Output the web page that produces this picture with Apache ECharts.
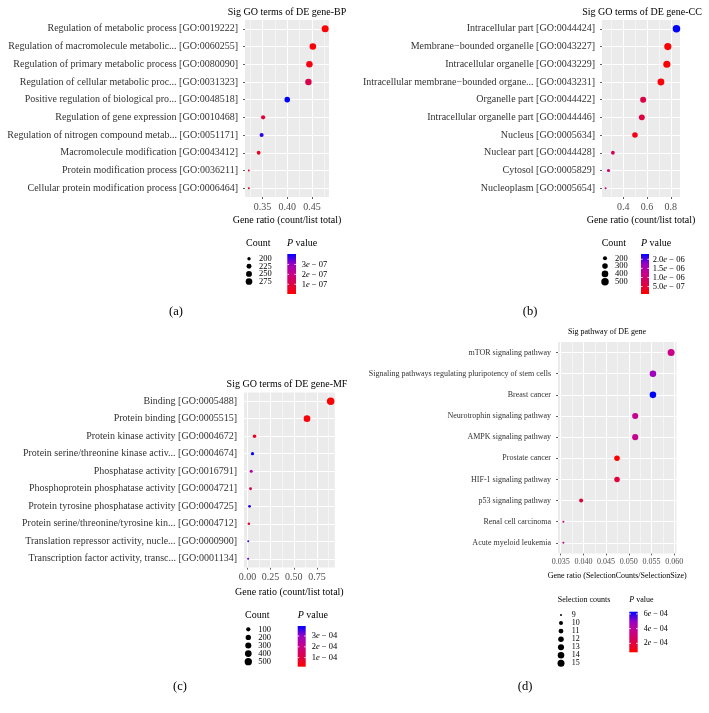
<!DOCTYPE html>
<html><head><meta charset="utf-8">
<script src="https://cdn.jsdelivr.net/npm/echarts@6/dist/echarts.min.js"></script>
<style>html,body{margin:0;padding:0;background:#fff}#c{width:709px;height:713px}</style>
</head><body><div id="c"></div>
<script>
// ---------- DATA ----------
// (a) BP
const bpTerms = ['Regulation of metabolic process [GO:0019222]','Regulation of macromolecule metabolic... [GO:0060255]','Regulation of primary metabolic process [GO:0080090]','Regulation of cellular metabolic proc... [GO:0031323]','Positive regulation of biological pro... [GO:0048518]','Regulation of gene expression [GO:0010468]','Regulation of nitrogen compound metab... [GO:0051171]','Macromolecule modification [GO:0043412]','Protein modification process [GO:0036211]','Cellular protein modification process [GO:0006464]'];
const bpRatio = [0.477,0.452,0.445,0.443,0.400,0.351,0.348,0.342,0.322,0.322];
const bpCount = [286,271,267,266,240,211,209,205,193,193];
const bpP = [2e-9,1.2e-8,2.5e-8,1.1e-7,4.05e-7,8e-8,3.8e-7,5e-8,7e-8,6e-8];
const bpXTicks = [0.35,0.40,0.45];
const bpXMinor = [0.325,0.375,0.425,0.475];
const bpSizeBreaks = [200,225,250,275];
const bpPBreaks = [1e-7,2e-7,3e-7];
const bpPLabels = ['1e − 07','2e − 07','3e − 07'];

// (b) CC
const ccTerms = ['Intracellular part [GO:0044424]','Membrane−bounded organelle [GO:0043227]','Intracellular organelle [GO:0043229]','Intracellular membrane−bounded organe... [GO:0043231]','Organelle part [GO:0044422]','Intracellular organelle part [GO:0044446]','Nucleus [GO:0005634]','Nuclear part [GO:0044428]','Cytosol [GO:0005829]','Nucleoplasm [GO:0005654]'];
const ccRatio = [0.848,0.775,0.767,0.717,0.567,0.556,0.498,0.312,0.275,0.250];
const ccCount = [509,465,460,430,340,334,299,187,165,150];
const ccP = [2.29e-6,9e-8,1.2e-7,1.5e-7,6.4e-7,5.7e-7,2.7e-7,8.6e-7,1.01e-6,1.19e-6];
const ccXTicks = [0.4,0.6,0.8];
const ccXMinor = [0.3,0.5,0.7];
const ccSizeBreaks = [200,300,400,500];
const ccPBreaks = [5e-7,1e-6,1.5e-6,2e-6];
const ccPLabels = ['5.0e − 07','1.0e − 06','1.5e − 06','2.0e − 06'];

// (c) MF
const mfTerms = ['Binding [GO:0005488]','Protein binding [GO:0005515]','Protein kinase activity [GO:0004672]','Protein serine/threonine kinase activ... [GO:0004674]','Phosphatase activity [GO:0016791]','Phosphoprotein phosphatase activity [GO:0004721]','Protein tyrosine phosphatase activity [GO:0004725]','Protein serine/threonine/tyrosine kin... [GO:0004712]','Translation repressor activity, nucle... [GO:0000900]','Transcription factor activity, transc... [GO:0001134]'];
const mfRatio = [0.897,0.642,0.077,0.055,0.041,0.034,0.023,0.016,0.009,0.008];
const mfCount = [538,385,46,33,25,20,14,10,5,5];
const mfP = [1.6e-5,2.7e-5,6.1e-5,3.93e-4,2.6e-4,1.29e-4,3.74e-4,8.4e-5,3.55e-4,3.48e-4];
const mfXTicks = [0,0.25,0.5,0.75];
const mfXMinor = [0.125,0.375,0.625,0.875];
const mfSizeBreaks = [100,200,300,400,500];
const mfPBreaks = [1e-4,2e-4,3e-4];
const mfPLabels = ['1e − 04','2e − 04','3e − 04'];

// (d) KEGG pathways
const kgTerms = ['mTOR signaling pathway','Signaling pathways regulating pluripotency of stem cells','Breast cancer','Neurotrophin signaling pathway','AMPK signaling pathway','Prostate cancer','HIF-1 signaling pathway','p53 signaling pathway','Renal cell carcinoma','Acute myeloid leukemia'];
const kgRatio = [0.0593,0.0553,0.0553,0.0514,0.0514,0.0474,0.0474,0.0395,0.0356,0.0356];
const kgCount = [15,14,14,13,13,12,12,10,9,9];
const kgP = [3.54e-4,4.75e-4,6.3e-4,3.65e-4,3.65e-4,7.8e-5,1.88e-4,1.88e-4,3.8e-4,3.8e-4];
const kgXTicks = [0.035,0.040,0.045,0.050,0.055,0.060];
const kgXMinor = [0.0375,0.0425,0.0475,0.0525,0.0575];
const kgSizeBreaks = [9,10,11,12,13,14,15];
const kgPBreaks = [2e-4,4e-4,6e-4];
const kgPLabels = ['2e − 04','4e − 04','6e − 04'];

// ---------- STYLE / LAYOUT ----------
const FONT = '"Liberation Serif","Times New Roman",Times,serif';
const GRAD = ['#FF0000','#DC0047','#CA0088','#9A00C2','#0000FF'];
const BIG = {axis:10, title:10, name:10, legT:10, legL:8.5};
const SMALL = {axis:8, xaxis:8, title:8, name:8, legT:8, legL:8};

const panels = [
 {terms:bpTerms, ratio:bpRatio, count:bpCount, p:bpP, xt:bpXTicks, xm:bpXMinor, dec:2, sb:bpSizeBreaks, pb:bpPBreaks, pl:bpPLabels,
  title:'Sig GO terms of DE gene-BP', xname:'Gene ratio (count/list total)', stitle:'Count', cap:'(a)', fs:BIG,
  grid:[245,20,84,177], titleXY:[287,12], lblMargin:5, nameGap:18, dmin:2, dmax:7,
  leg:{ty:243, cx:246, px:287, kx:249, ky:258.7, ks:7.6, klx:259, bar:[287.3,254,8.7,40], blx:301.7}, capXY:[176,311.7]},
 {terms:ccTerms, ratio:ccRatio, count:ccCount, p:ccP, xt:ccXTicks, xm:ccXMinor, dec:1, sb:ccSizeBreaks, pb:ccPBreaks, pl:ccPLabels,
  title:'Sig GO terms of DE gene-CC', xname:'Gene ratio (count/list total)', stitle:'Count', cap:'(b)', fs:BIG,
  grid:[602,20,78,177], titleXY:[642,12], lblMargin:5, nameGap:18, dmin:2, dmax:7.5,
  leg:{ty:243, cx:601.7, px:641, kx:605, ky:258.3, ks:7.8, klx:615, bar:[641,254,8,40], blx:652.7}, capXY:[530,311.7]},
 {terms:mfTerms, ratio:mfRatio, count:mfCount, p:mfP, xt:mfXTicks, xm:mfXMinor, dec:2, sb:mfSizeBreaks, pb:mfPBreaks, pl:mfPLabels,
  title:'Sig GO terms of DE gene-MF', xname:'Gene ratio (count/list total)', stitle:'Count', cap:'(c)', fs:BIG,
  grid:[244,392.4,90.8,175.2], titleXY:[287,384], lblMargin:5, nameGap:20, dmin:2, dmax:7.5,
  leg:{ty:615, cx:245, px:297.7, kx:248.3, ky:629.3, ks:8.1, klx:258.3, bar:[297.7,626,8,40.7], blx:311.7}, capXY:[180,686.7]},
 {terms:kgTerms, ratio:kgRatio, count:kgCount, p:kgP, xt:kgXTicks, xm:kgXMinor, dec:3, sb:kgSizeBreaks, pb:kgPBreaks, pl:kgPLabels,
  title:'Sig pathway of DE gene', xname:'Gene ratio (SelectionCounts/SelectionSize)', stitle:'Selection counts', cap:'(d)', fs:SMALL,
  grid:[558,342,118.5,211.4], titleXY:[607,332], lblMargin:5, nameGap:19, dmin:2, dmax:7,
  leg:{ty:600, cx:557.7, px:629.3, kx:561, ky:615, ks:8.05, klx:571.7, bar:[629.3,611.7,8.4,40.6], blx:643.7}, capXY:[525,686.7]}
];

function rng(a){ return [Math.min(...a), Math.max(...a)]; }
function sizeFn(counts,dmin,dmax){ const [lo,hi]=rng(counts); return c => dmin+(dmax-dmin)*Math.sqrt(Math.max(0,Math.min(1,(c-lo)/(hi-lo)))); }
function font(sz,style){ return (style||'')+' '+sz+'px '+FONT; }
function txt(x,y,text,sz,align,extra){
  return {type:'text', x:x, y:y, silent:true, style:Object.assign({text:text, fill:'#000', font:font(sz), fontSize:sz, fontFamily:FONT, align:align||'left', textAlign:align||'left', verticalAlign:'middle', textVerticalAlign:'middle'}, extra||{})};
}
function richE(label){ const i=label.indexOf('e'); return label.slice(0,i)+'{i|e}{n|'+label.slice(i+1)+'}'; }

const grids=[], xAxes=[], yAxes=[], series=[], visualMaps=[], graphics=[];
panels.forEach((P,i)=>{
  const [gl,gt,gw,gh]=P.grid;
  grids.push({left:gl, top:gt, width:gw, height:gh, show:true, backgroundColor:'#EBEBEB', borderWidth:0, containLabel:false});
  const [lo,hi]=rng(P.ratio); const pad=(hi-lo)*0.05; const xmin=lo-pad, xmax=hi+pad;
  const xfs = P.fs.xaxis||P.fs.axis;
  xAxes.push({gridIndex:i, type:'value', min:xmin, max:xmax, splitLine:{show:false}, axisLine:{show:false},
    axisTick:{show:true, length:2, customValues:P.xt, lineStyle:{color:'#333', width:0.8}},
    axisLabel:{customValues:P.xt, formatter:v=>Number(v).toFixed(P.dec), margin:P.lblMargin, color:'#4D4D4D', fontFamily:FONT, fontSize:xfs},
    name:P.xname, nameLocation:'middle', nameGap:P.nameGap, nameTextStyle:{color:'#000', fontFamily:FONT, fontSize:P.fs.name}});
  yAxes.push({gridIndex:i, type:'category', inverse:true, data:P.terms, boundaryGap:true, axisLine:{show:false}, splitLine:{show:false},
    axisTick:{show:true, alignWithLabel:true, length:2, lineStyle:{color:'#333', width:0.8}},
    axisLabel:{margin:7, color:'#333', fontFamily:FONT, fontSize:P.fs.axis, interval:0}});
  const lines=[];
  P.xm.filter(v=>v>xmin&&v<xmax).forEach(v=>lines.push({xAxis:v, lineStyle:{width:0.5}}));
  P.xt.filter(v=>v>=xmin&&v<=xmax).forEach(v=>lines.push({xAxis:v, lineStyle:{width:1}}));
  P.terms.forEach(t=>lines.push({yAxis:t, lineStyle:{width:1}}));
  series.push({type:'scatter', xAxisIndex:i, yAxisIndex:i, data:[], z:1, silent:true, animation:false,
    markLine:{z:1, silent:true, symbol:['none','none'], label:{show:false}, animation:false, precision:6,
      lineStyle:{color:'#FFFFFF', type:'solid', width:1}, emphasis:{disabled:true}, data:lines}});
  const sf=sizeFn(P.count,P.dmin,P.dmax);
  const si=series.length;
  series.push({type:'scatter', xAxisIndex:i, yAxisIndex:i, z:10, animation:false, symbol:'circle',
    data:P.terms.map((t,k)=>[P.ratio[k], t, P.p[k], P.count[k]]),
    symbolSize:v=>sf(v[3]), itemStyle:{opacity:1}});
  const [pmin,pmax]=rng(P.p);
  visualMaps.push({type:'continuous', show:false, seriesIndex:si, dimension:2, min:pmin, max:pmax, inRange:{color:GRAD}});
  graphics.push(txt(P.titleXY[0],P.titleXY[1],P.title,P.fs.title,'center'));
  graphics.push(txt(P.capXY[0],P.capXY[1],P.cap,12.5,'center'));
  const L=P.leg;
  graphics.push(txt(L.cx,L.ty,P.stitle,P.fs.legT,'left'));
  graphics.push(txt(L.px,L.ty,'{i|P} value',P.fs.legT,'left',{rich:{i:{fontStyle:'italic',fontFamily:FONT,fontSize:P.fs.legT,fill:'#000'}}}));
  P.sb.forEach((b,k)=>{
    const y=L.ky+k*L.ks;
    graphics.push({type:'circle', silent:true, shape:{cx:L.kx, cy:y, r:sf(b)/2}, style:{fill:'#000'}});
    graphics.push(txt(L.klx,y,String(b),P.fs.legL,'left',{lineHeight:L.ks-0.4}));
  });
  const [bx,by,bw,bh]=L.bar;
  graphics.push({type:'rect', silent:true, shape:{x:bx,y:by,width:bw,height:bh},
    style:{fill:{type:'linear',x:0,y:1,x2:0,y2:0,global:false,colorStops:GRAD.map((c,k)=>({offset:k/(GRAD.length-1),color:c}))}}});
  P.pb.forEach((v,k)=>{
    const y=by+bh-(v-pmin)/(pmax-pmin)*bh;
    graphics.push({type:'line', silent:true, shape:{x1:bx,y1:y,x2:bx+bw*0.2,y2:y}, style:{stroke:'#fff',lineWidth:0.8}});
    graphics.push({type:'line', silent:true, shape:{x1:bx+bw*0.8,y1:y,x2:bx+bw,y2:y}, style:{stroke:'#fff',lineWidth:0.8}});
    graphics.push(txt(L.blx,y,richE(P.pl[k]),P.fs.legL,'left',{rich:{i:{fontStyle:'italic',fontFamily:FONT,fontSize:P.fs.legL,fill:'#000'},n:{fontFamily:FONT,fontSize:P.fs.legL,fill:'#000'}}}));
  });
});

const chart=echarts.init(document.getElementById('c'),null,{renderer:'canvas',width:709,height:713});
chart.setOption({backgroundColor:'#fff', animation:false, textStyle:{fontFamily:FONT},
  grid:grids, xAxis:xAxes, yAxis:yAxes, series:series, visualMap:visualMaps, graphic:{elements:graphics}});
</script></body></html>
